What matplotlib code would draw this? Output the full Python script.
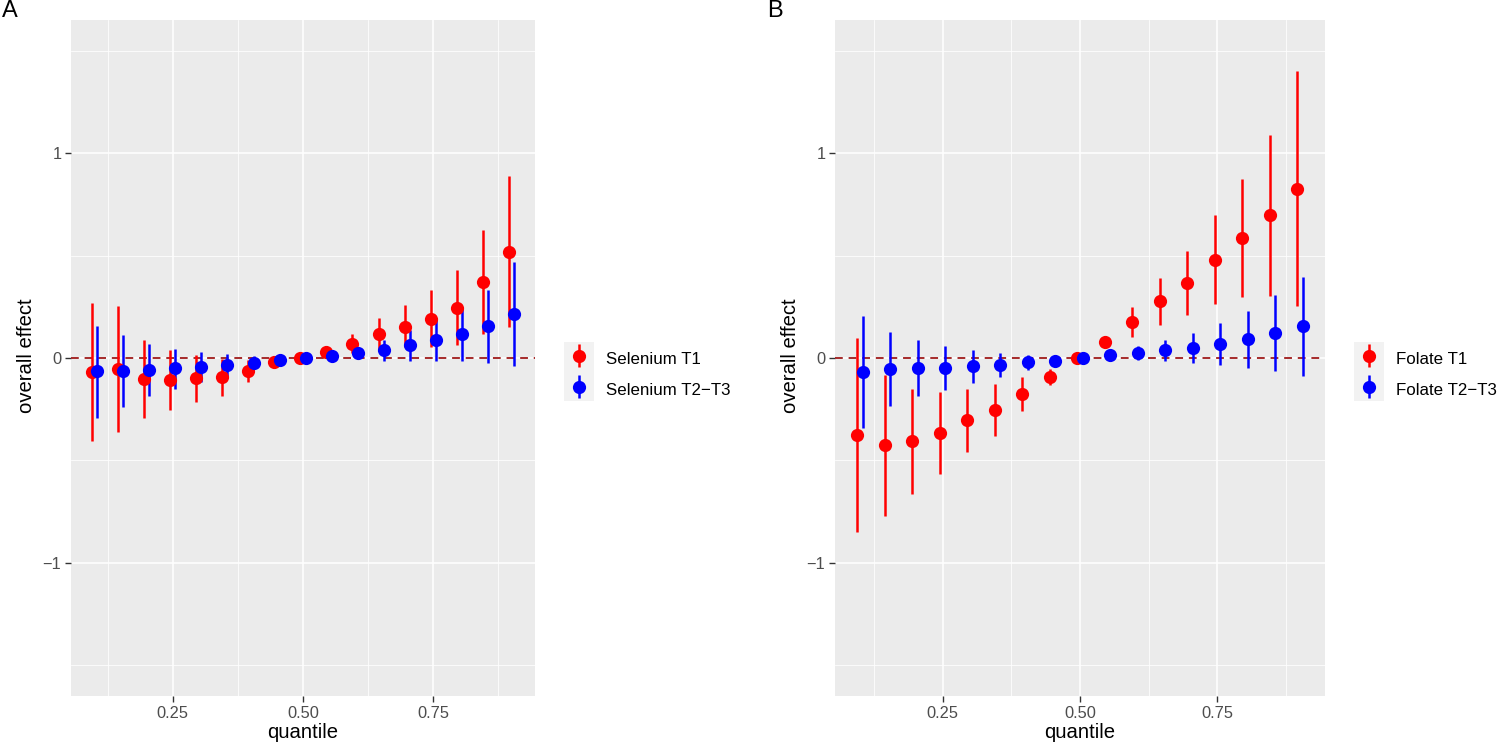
import matplotlib
matplotlib.use("Agg")
import matplotlib.pyplot as plt
from matplotlib.patches import Rectangle
from matplotlib.legend_handler import HandlerErrorbar
from matplotlib.container import ErrorbarContainer
import numpy as np

plt.rcParams['font.family'] = ['Liberation Sans', 'DejaVu Sans']

quantiles = [0.10, 0.15, 0.20, 0.25, 0.30, 0.35, 0.40, 0.45, 0.50,
             0.55, 0.60, 0.65, 0.70, 0.75, 0.80, 0.85, 0.90]

# Panel A: Selenium
sel_t1_est = [-0.070, -0.052, -0.103, -0.106, -0.098, -0.093, -0.062, -0.018, 0.000,
              0.028, 0.070, 0.115, 0.152, 0.191, 0.245, 0.370, 0.519]
sel_t1_lo = [-0.406, -0.360, -0.295, -0.254, -0.213, -0.185, -0.115, -0.038, -0.004,
             0.010, 0.022, 0.042, 0.055, 0.052, 0.064, 0.118, 0.151]
sel_t1_hi = [0.267, 0.254, 0.087, 0.041, 0.016, -0.005, -0.012, 0.002, 0.004,
             0.046, 0.119, 0.193, 0.259, 0.331, 0.430, 0.624, 0.889]

sel_t23_est = [-0.065, -0.062, -0.057, -0.051, -0.044, -0.034, -0.023, -0.011, 0.000,
               0.011, 0.026, 0.041, 0.064, 0.087, 0.115, 0.155, 0.216]
sel_t23_lo = [-0.291, -0.241, -0.185, -0.151, -0.118, -0.090, -0.050, -0.025, -0.004,
              -0.002, -0.003, -0.013, -0.013, -0.013, -0.016, -0.025, -0.038]
sel_t23_hi = [0.155, 0.113, 0.069, 0.046, 0.029, 0.020, 0.011, 0.004, 0.004,
              0.026, 0.054, 0.090, 0.136, 0.188, 0.245, 0.334, 0.470]

# Panel B: Folate
fol_t1_est = [-0.374, -0.425, -0.405, -0.365, -0.302, -0.255, -0.177, -0.093, 0.000,
              0.078, 0.177, 0.277, 0.365, 0.480, 0.584, 0.696, 0.823]
fol_t1_lo = [-0.851, -0.769, -0.664, -0.567, -0.460, -0.383, -0.258, -0.132, -0.004,
             0.060, 0.104, 0.160, 0.212, 0.264, 0.298, 0.303, 0.253]
fol_t1_hi = [0.099, -0.083, -0.149, -0.165, -0.149, -0.127, -0.094, -0.053, 0.004,
             0.096, 0.251, 0.390, 0.520, 0.696, 0.876, 1.088, 1.399]

fol_t23_est = [-0.069, -0.053, -0.051, -0.048, -0.041, -0.033, -0.021, -0.015, 0.000,
               0.013, 0.026, 0.038, 0.048, 0.068, 0.093, 0.124, 0.157]
fol_t23_lo = [-0.344, -0.235, -0.187, -0.154, -0.121, -0.091, -0.061, -0.041, -0.004,
              -0.004, -0.012, -0.017, -0.025, -0.036, -0.050, -0.063, -0.086]
fol_t23_hi = [0.207, 0.127, 0.086, 0.058, 0.038, 0.023, 0.013, 0.006, 0.004,
              0.030, 0.061, 0.088, 0.121, 0.169, 0.231, 0.306, 0.393]

labels_A = ["Selenium T1", "Selenium T2\u2212T3"]
labels_B = ["Folate T1", "Folate T2\u2212T3"]
colors = ["#FF0000", "#0000FF"]

W, H = 1500, 743
fig = plt.figure(figsize=(W / 100, H / 100), dpi=100)

def fx(px):
    return px / W

def fy(py):
    return 1 - py / H

panel_top, panel_bot = 20, 696
TICK_FS = 11.8
TITLE_FS = 14.6
LEG_FS = 12.2

def make_panel(left, right, series, labels, letter, letter_x, ylabel_x, leg_key_x):
    ax = fig.add_axes([fx(left), fy(panel_bot), (right - left) / W, (panel_bot - panel_top) / H])
    ax.set_facecolor("#EBEBEB")
    for s in ax.spines.values():
        s.set_visible(False)
    ax.set_xlim(0.0545, 0.9455)
    ax.set_ylim(-1.65, 1.65)
    ax.set_xticks([0.25, 0.50, 0.75])
    ax.set_xticklabels(["0.25", "0.50", "0.75"])
    ax.set_xticks([0.125, 0.375, 0.625, 0.875], minor=True)
    ax.set_yticks([-1, 0, 1])
    ax.set_yticklabels(["\u22121", "0", "1"])
    ax.set_yticks([-1.5, -0.5, 0.5, 1.5], minor=True)
    ax.grid(which="major", color="white", linewidth=1.1)
    ax.grid(which="minor", color="white", linewidth=0.55)
    ax.set_axisbelow(True)
    ax.tick_params(which="major", length=4, width=1.0, color="#333333",
                   labelsize=TICK_FS, labelcolor="#4D4D4D", pad=3)
    ax.tick_params(which="minor", length=0)
    ax.set_xlabel("quantile", fontsize=TITLE_FS, labelpad=2)
    ax.axhline(0, color="#A52A2A", linewidth=1.4, dashes=(4, 3), zorder=1)
    handles = []
    offs = [-0.005, 0.005]
    q = np.array(quantiles)
    for (est, lo, hi), col, off in zip(series, colors, offs):
        est = np.array(est); lo = np.array(lo); hi = np.array(hi)
        h = ax.errorbar(q + off, est, yerr=[est - lo, hi - est], fmt="o", color=col,
                        ecolor=col, elinewidth=1.8, capsize=0, markersize=9.5,
                        markeredgewidth=0, zorder=3)
        handles.append(h)
    fig.text(fx(ylabel_x), fy(356), "overall effect", rotation=90, fontsize=TITLE_FS,
             ha="center", va="center")
    fig.text(fx(letter_x), fy(11), letter, fontsize=17, ha="left", va="center")
    # legend key background
    fig.patches.append(Rectangle((fx(leg_key_x), fy(401)), 30 / W, 59 / H,
                                 transform=fig.transFigure, facecolor="#F2F2F2",
                                 edgecolor="none", zorder=0))
    fs_px = LEG_FS * 100 / 72
    fig.legend(handles, labels, loc="upper left",
               bbox_to_anchor=(fx(leg_key_x), fy(347)), frameon=False,
               fontsize=LEG_FS, handlelength=30 / fs_px, handletextpad=12 / fs_px,
               labelspacing=0.45, borderpad=0, borderaxespad=0,
               handleheight=29.5 / fs_px,
               handler_map={ErrorbarContainer: HandlerErrorbar(yerr_size=0.7)})
    return ax

make_panel(71, 535,
           [(sel_t1_est, sel_t1_lo, sel_t1_hi), (sel_t23_est, sel_t23_lo, sel_t23_hi)],
           labels_A, "A", 2, 27, 564)
make_panel(835, 1325,
           [(fol_t1_est, fol_t1_lo, fol_t1_hi), (fol_t23_est, fol_t23_lo, fol_t23_hi)],
           labels_B, "B", 767, 791, 1354)

fig.savefig("out.png", dpi=100, facecolor="white")
